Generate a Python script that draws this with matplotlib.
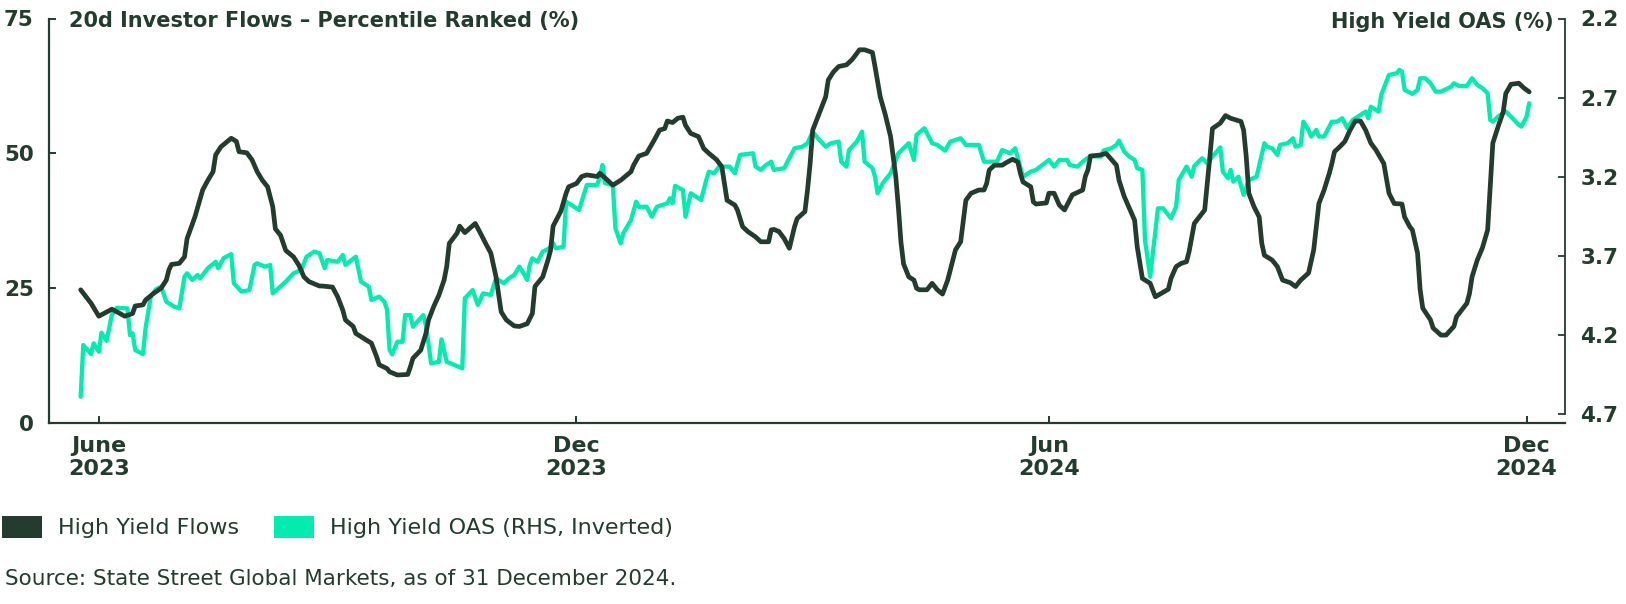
import matplotlib
matplotlib.use("Agg")
import matplotlib.pyplot as plt
from matplotlib.patches import Patch
import pandas as pd

# ---------------- data ----------------
START = "2023-06-23"   # first observation; series below are days since START

flow_days = [0, 4, 6, 7, 12, 14, 17, 20, 21, 24, 25, 28, 31, 33, 34, 35, 38, 40, 41, 44,
             47, 49, 51, 52, 54, 58, 60, 61, 64, 66, 68, 70, 72, 74, 75, 77, 79, 82, 84, 86,
             88, 92, 93, 97, 99, 101, 102, 105, 106, 109, 112, 114, 115, 118, 119, 122, 126, 127, 128, 131,
             133, 134, 136, 138, 140, 141, 142, 145, 146, 148, 152, 154, 156, 158, 160, 162, 164, 167, 169, 172,
             174, 175, 178, 180, 181, 182, 185, 187, 188, 191, 193, 195, 199, 200, 203, 205, 208, 212, 213, 215,
             218, 221, 223, 225, 226, 228, 230, 232, 233, 235, 238, 240, 242, 245, 247, 248, 249, 252, 253, 255,
             257, 260, 262, 265, 266, 267, 269, 271, 273, 275, 276, 279, 280, 281, 282, 285, 287, 288, 290, 292,
             295, 297, 298, 300, 302, 305, 306, 308, 310, 312, 314, 315, 316, 317, 319, 321, 322, 323, 326, 328,
             330, 332, 334, 336, 337, 339, 341, 343, 346, 348, 349, 350, 352, 355, 357, 359, 361, 362, 363, 366,
             367, 368, 372, 373, 375, 377, 379, 382, 386, 387, 388, 389, 393, 395, 399, 400, 402, 404, 406, 407,
             409, 412, 414, 419, 420, 422, 424, 426, 427, 429, 433, 434, 435, 436, 439, 441, 443, 447, 448, 449,
             450, 452, 454, 455, 456, 459, 461, 463, 466, 468, 470, 473, 475, 476, 477, 479, 481, 482, 483, 485,
             487, 489, 491, 493, 495, 497, 499, 502, 504, 506, 509, 510, 512, 513, 515, 516, 517, 520, 521, 524,
             526, 529, 530, 534, 535, 536, 538, 540, 542, 544, 546, 548, 549, 551, 554, 556, 558]
flow_vals = [24.7, 22.2, 20.6, 19.8, 21.1, 20.6, 19.8, 20.3, 21.7, 21.9, 22.8, 24.0, 25.0, 26.5, 28.4, 29.4, 29.6, 30.8, 34.2, 38.2,
             43.2, 45.0, 46.6, 49.7, 51.2, 52.8, 52.2, 50.3, 50.1, 48.8, 46.6, 45.0, 43.8, 40.1, 36.0, 34.8, 32.0, 30.8, 29.3, 27.1,
             26.2, 25.4, 25.4, 25.2, 23.4, 20.9, 19.1, 17.9, 16.6, 15.7, 14.8, 12.3, 10.8, 10.1, 9.5, 8.9, 9.0, 10.4, 12.0, 13.5,
             16.6, 19.1, 21.6, 23.7, 26.5, 29.0, 33.3, 35.2, 36.5, 35.3, 37.0, 35.2, 33.3, 31.5, 27.1, 20.6, 19.1, 18.0, 17.9, 18.4,
             20.3, 25.3, 27.1, 30.2, 32.0, 36.5, 39.3, 42.6, 43.8, 44.4, 45.7, 46.0, 45.7, 46.3, 45.0, 44.1, 45.0, 46.6, 47.8, 49.5,
             50.0, 52.5, 54.3, 54.6, 56.0, 55.7, 56.5, 56.7, 55.2, 53.7, 53.1, 50.9, 50.0, 48.8, 47.5, 44.4, 41.3, 40.4, 39.5, 36.4,
             35.5, 34.5, 33.6, 33.6, 35.8, 35.9, 35.5, 34.2, 32.4, 36.4, 37.9, 39.2, 43.2, 48.1, 54.3, 58.0, 60.5, 63.6, 65.1, 66.1,
             66.4, 67.3, 67.9, 69.2, 69.2, 68.7, 66.1, 60.5, 57.1, 53.1, 45.7, 40.0, 33.5, 29.5, 27.1, 26.5, 25.0, 24.7, 24.7, 25.9,
             24.7, 23.9, 26.5, 30.2, 32.1, 33.6, 41.3, 42.6, 43.2, 43.2, 44.4, 46.9, 47.8, 47.8, 48.4, 48.9, 48.4, 46.3, 44.7, 43.8,
             41.0, 40.6, 40.8, 42.6, 42.6, 40.4, 39.5, 42.3, 43.2, 45.7, 46.9, 49.5, 49.7, 50.0, 47.8, 45.0, 42.0, 39.8, 37.6, 32.7,
             26.8, 25.9, 23.4, 24.8, 26.8, 29.0, 29.6, 29.9, 31.8, 37.0, 39.5, 44.4, 49.4, 54.6, 55.6, 57.0, 56.5, 55.9, 54.3, 49.4,
             42.6, 40.1, 38.2, 33.3, 31.1, 30.2, 29.0, 26.5, 26.0, 25.3, 26.5, 27.8, 32.1, 36.4, 40.7, 43.2, 46.3, 48.1, 50.3, 51.2,
             52.2, 54.3, 56.0, 56.0, 54.3, 51.9, 50.6, 48.1, 42.6, 40.7, 40.6, 38.2, 36.4, 35.8, 31.5, 24.7, 21.3, 19.1, 17.6, 16.3,
             16.3, 17.9, 19.7, 22.2, 24.0, 27.1, 30.2, 32.5, 35.8, 51.9, 54.9, 57.7, 61.1, 62.8, 63.0, 62.1, 61.4]

oas_days = [0, 1, 4, 5, 7, 8, 10, 12, 14, 18, 19, 20, 21, 24, 25, 27, 29, 31, 33, 36,
            38, 40, 41, 43, 45, 46, 49, 52, 53, 55, 58, 59, 62, 65, 67, 68, 71, 73, 74, 79,
            82, 85, 87, 90, 92, 94, 95, 99, 101, 102, 106, 108, 111, 112, 115, 117, 118, 119, 120, 122,
            124, 125, 127, 128, 132, 133, 135, 138, 139, 141, 144, 147, 148, 151, 153, 155, 158, 160, 163, 165,
            167, 169, 171, 172, 173, 174, 176, 178, 181, 182, 183, 186, 187, 192, 193, 195, 199, 200, 201, 202,
            205, 206, 208, 209, 212, 214, 215, 218, 220, 222, 226, 227, 228, 229, 232, 233, 235, 239, 241, 242,
            244, 246, 250, 252, 254, 259, 260, 262, 264, 266, 267, 271, 273, 275, 278, 280, 282, 284, 287, 289,
            292, 293, 295, 296, 299, 301, 302, 305, 306, 307, 309, 312, 315, 319, 321, 322, 325, 328, 330, 333,
            335, 339, 341, 346, 348, 353, 355, 358, 360, 363, 366, 368, 373, 375, 377, 380, 381, 384, 386, 389,
            393, 394, 397, 399, 400, 402, 404, 406, 407, 409, 410, 412, 415, 417, 420, 422, 423, 426, 428, 429,
            432, 434, 436, 439, 440, 442, 443, 444, 446, 448, 450, 453, 456, 457, 459, 461, 462, 465, 467, 468,
            470, 471, 473, 474, 476, 477, 479, 481, 482, 484, 486, 488, 490, 493, 495, 496, 497, 500, 501, 502,
            504, 507, 508, 509, 510, 513, 515, 516, 518, 520, 522, 524, 528, 529, 531, 534, 536, 538, 540, 542,
            543, 544, 546, 549, 551, 554, 555, 557, 558]
oas_vals = [4.593, 4.266, 4.323, 4.255, 4.308, 4.188, 4.239, 4.076, 4.030, 4.034, 4.203, 4.192, 4.297, 4.323, 4.160, 3.960, 3.913, 3.897, 3.992, 4.023,
            4.034, 3.834, 3.812, 3.854, 3.823, 3.844, 3.780, 3.739, 3.780, 3.717, 3.690, 3.875, 3.928, 3.918, 3.759, 3.749, 3.770, 3.759, 3.939, 3.865,
            3.812, 3.791, 3.707, 3.675, 3.685, 3.780, 3.728, 3.739, 3.696, 3.759, 3.707, 3.865, 3.897, 3.981, 3.960, 3.992, 4.040, 4.297, 4.325, 4.245,
            4.245, 4.076, 4.076, 4.150, 4.076, 4.139, 4.382, 4.372, 4.230, 4.372, 4.392, 4.413, 3.970, 3.918, 4.013, 3.939, 3.949, 3.844, 3.875, 3.844,
            3.823, 3.770, 3.823, 3.854, 3.759, 3.717, 3.739, 3.675, 3.650, 3.622, 3.654, 3.644, 3.359, 3.411, 3.359, 3.253, 3.253, 3.201, 3.127, 3.242,
            3.253, 3.527, 3.622, 3.560, 3.475, 3.359, 3.391, 3.391, 3.454, 3.391, 3.369, 3.337, 3.369, 3.259, 3.285, 3.454, 3.306, 3.348, 3.222, 3.169,
            3.179, 3.137, 3.137, 3.179, 3.063, 3.053, 3.137, 3.158, 3.127, 3.106, 3.158, 3.147, 3.084, 3.021, 3.011, 2.989, 2.916, 2.958, 3.011, 2.989,
            2.979, 3.106, 3.137, 3.032, 2.979, 2.916, 3.106, 3.147, 3.201, 3.306, 3.242, 3.179, 3.053, 2.989, 3.095, 2.937, 2.894, 2.989, 3.000, 3.036,
            2.979, 2.958, 3.000, 3.000, 3.106, 3.106, 3.032, 3.053, 3.021, 3.201, 3.169, 3.158, 3.095, 3.137, 3.095, 3.095, 3.127, 3.137, 3.106, 3.070,
            3.074, 3.036, 3.021, 3.000, 2.973, 3.042, 3.074, 3.095, 3.147, 3.158, 3.601, 3.834, 3.401, 3.401, 3.464, 3.391, 3.222, 3.137, 3.201, 3.133,
            3.084, 3.116, 3.074, 3.015, 3.169, 3.211, 3.158, 3.232, 3.201, 3.316, 3.222, 3.201, 2.989, 3.011, 3.021, 3.063, 3.000, 2.989, 2.958, 3.011,
            3.000, 2.853, 2.905, 2.947, 2.905, 2.947, 2.947, 2.884, 2.853, 2.853, 2.831, 2.894, 2.842, 2.810, 2.789, 2.831, 2.758, 2.789, 2.684, 2.641,
            2.557, 2.546, 2.525, 2.536, 2.652, 2.677, 2.652, 2.578, 2.578, 2.610, 2.663, 2.663, 2.631, 2.610, 2.627, 2.627, 2.578, 2.620, 2.641, 2.673,
            2.842, 2.853, 2.821, 2.789, 2.821, 2.873, 2.884, 2.821, 2.736]

tick_dates = ["2023-06-30", "2023-12-31", "2024-06-30", "2024-12-31"]
tick_labels = ["June\n2023", "Dec\n2023", "Jun\n2024", "Dec\n2024"]
left_ticks = [0, 25, 50, 75]
right_ticks = [2.2, 2.7, 3.2, 3.7, 4.2, 4.7]

left_title = "20d Investor Flows \u2013 Percentile Ranked (%)"
right_title = "High Yield OAS (%)"
legend_labels = ["High Yield Flows", "High Yield OAS (RHS, Inverted)"]
source_text = "Source: State Street Global Markets, as of 31 December 2024."

# ---------------- style ----------------
DARK = "#243B30"
TEAL = "#02ECB0"
plt.rcParams["font.family"] = ["DejaVu Sans"]

W, H = 1626, 604
start = pd.Timestamp(START)
flow_dates = start + pd.to_timedelta(flow_days, unit="D")
oas_dates = start + pd.to_timedelta(oas_days, unit="D")

fig = plt.figure(figsize=(W / 100, H / 100), dpi=100)
ax = fig.add_axes([49 / W, 1 - 423 / H, (1565 - 49) / W, (423 - 18.5) / H])
ax2 = ax.twinx()

ax2.plot(oas_dates, oas_vals, color=TEAL, lw=3.1, solid_joinstyle="round", solid_capstyle="round")
ax.plot(flow_dates, flow_vals, color=DARK, lw=3.4, solid_joinstyle="round", solid_capstyle="round")
ax.set_zorder(ax2.get_zorder() + 1)
ax.patch.set_visible(False)

ax.set_ylim(0, 75)
ax2.set_ylim(4.759, 2.2)
ax.set_xlim(start - pd.Timedelta(days=12.2), start + pd.Timedelta(days=571.8))

for s in ["top", "right"]:
    ax.spines[s].set_visible(False)
for s in ["left", "bottom"]:
    ax.spines[s].set_color(DARK)
    ax.spines[s].set_linewidth(1.6)
for s in ["top", "left", "bottom"]:
    ax2.spines[s].set_visible(False)
ax2.spines["right"].set_color(DARK)
ax2.spines["right"].set_linewidth(1.3)
ax2.spines["right"].set_bounds(4.7, 2.2)

ax.set_yticks(left_ticks, labels=[str(t) for t in left_ticks],
              fontsize=15.5, fontweight="bold", color=DARK)
ax.set_xticks(pd.to_datetime(tick_dates), labels=tick_labels,
              fontsize=16, fontweight="bold", color=DARK)
ax2.set_yticks(right_ticks, labels=[f"{t:.1f}" for t in right_ticks],
               fontsize=15.5, fontweight="bold", color=DARK)

ax.tick_params(axis="y", direction="in", length=5, width=1.4, color=DARK, pad=11)
ax.tick_params(axis="x", direction="in", length=5, width=1.4, color=DARK, pad=9)
ax2.tick_params(axis="y", direction="in", length=5, width=1.3, color=DARK, pad=11)

fig.text(69 / W, 1 - 21.5 / H, left_title, ha="left", va="center",
         fontsize=15, fontweight="bold", color=DARK)
fig.text(1554 / W, 1 - 21.5 / H, right_title, ha="right", va="center",
         fontsize=15, fontweight="bold", color=DARK)

handles = [Patch(facecolor=DARK, edgecolor="none", label=legend_labels[0]),
           Patch(facecolor=TEAL, edgecolor="none", label=legend_labels[1])]
fig.legend(handles=handles, loc="center left", bbox_to_anchor=(2 / W, 1 - 527 / H),
           ncol=2, frameon=False, fontsize=16, handlelength=1.8, handleheight=1.2,
           handletextpad=0.7, columnspacing=1.6, borderpad=0, borderaxespad=0,
           labelcolor=DARK)

fig.text(5 / W, 1 - 579 / H, source_text, ha="left", va="center", fontsize=15.5, color=DARK)

fig.savefig("out.png", dpi=100)
